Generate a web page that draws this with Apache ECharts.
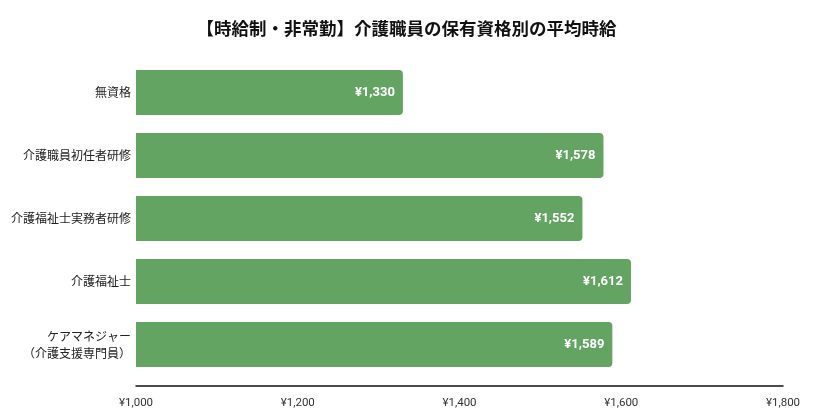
<!DOCTYPE html>
<html lang="ja">
<head>
    <meta charset="UTF-8">
    <title>介護職員の保有資格別の平均時給</title>
    <script src="https://cdn.jsdelivr.net/npm/echarts@6/dist/echarts.min.js"></script>
    <style>
        html, body { margin: 0; padding: 0; background: #fff; }
        #main { width: 813px; height: 410px; }
    </style>
</head>
<body>
<div id="main"></div>
<script type="text/javascript">
    "use strict"
    var categories = ['無資格', '介護職員初任者研修', '介護福祉士実務者研修', '介護福祉士', 'ケアマネジャー\n（介護支援専門員）'];
    var wages = [1330, 1578, 1552, 1612, 1589];

    var font = '"Noto Sans CJK JP", Roboto, sans-serif';
    function yen(v) {
        return '¥' + v.toLocaleString('en-US');
    }

    var myChart = echarts.init(document.getElementById('main'));
    var option = {
        animation: false,
        title: {
            text: '【時給制・非常勤】介護職員の保有資格別の平均時給',
            left: 'center',
            top: 15,
            textStyle: { fontFamily: font, fontSize: 17.5, fontWeight: 'bold', color: '#111' }
        },
        grid: { left: 136, right: 30, top: 61, bottom: 34, containLabel: false },
        xAxis: {
            type: 'value',
            min: 1000,
            max: 1800,
            interval: 200,
            offset: 10,
            axisLine: { show: true, lineStyle: { color: '#111', width: 1.5 } },
            axisTick: { show: false },
            splitLine: { show: false },
            axisLabel: {
                fontFamily: 'Roboto, sans-serif', fontSize: 11.5, color: '#333', margin: 11,
                formatter: yen
            }
        },
        yAxis: {
            type: 'category',
            inverse: true,
            data: categories,
            axisLine: { show: false },
            axisTick: { show: false },
            axisLabel: { fontFamily: font, fontSize: 12, color: '#222', margin: 5, lineHeight: 17 }
        },
        series: [{
            type: 'bar',
            data: wages,
            barWidth: 45,
            itemStyle: { color: '#63a463', borderRadius: [0, 4, 4, 0] },
            label: {
                show: true,
                position: 'insideRight',
                distance: 8,
                color: '#fff',
                fontFamily: 'Roboto, sans-serif',
                fontWeight: 'bold',
                fontSize: 13,
                formatter: function (p) { return yen(p.value); }
            }
        }]
    };
    myChart.setOption(option);
</script>
</body>
</html>
